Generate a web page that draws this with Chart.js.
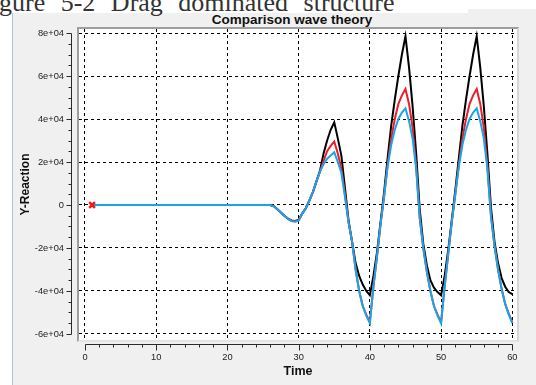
<!DOCTYPE html>
<html>
<head>
<meta charset="utf-8">
<script src="https://cdn.jsdelivr.net/npm/chart.js@4/dist/chart.umd.min.js"></script>
<style>
  body { margin: 0; width: 536px; height: 385px; background: #fff; overflow: hidden; position: relative; }
  .panel { position: absolute; left: 12px; top: 13px; right: 0; bottom: 0; background: #f0f0f0; border-left: 1px solid #b4c2d8; }
  .panel-notch { position: absolute; left: 468px; top: 9px; width: 68px; height: 4px; background: #f0f0f0; }
  .plotbox { position: absolute; left: 77px; top: 27px; width: 442px; height: 315px; box-sizing: border-box; background: #fff;
    border-top: 2px solid #9e9e9e; border-left: 2px solid #9e9e9e; border-right: 2px solid #d6d6d6; border-bottom: 2px solid #e4e4e4; }
  .heading { position: absolute; left: -1px; top: -10px; font-family: "Liberation Serif", serif; font-size: 26px; line-height: 26px;
    word-spacing: 9px; color: #333; white-space: nowrap; }
  .title { position: absolute; left: 192px; width: 200px; top: 12px; text-align: center; font-family: "Liberation Sans", Arial, sans-serif;
    font-weight: bold; font-size: 13.5px; color: #111; }
  canvas { position: absolute; left: 0; top: 0; }
</style>
</head>
<body>
<div class="panel"></div>
<div class="panel-notch"></div>
<div class="plotbox"></div>
<div class="heading">gure 5-2 Drag dominated structure</div>
<div class="title">Comparison wave theory</div>
<canvas id="chart" width="536" height="385"></canvas>
<script>
var timeValues = [1, 25, 25.5, 26, 26.5, 27, 27.5, 28, 28.5, 29, 29.5, 30, 30.5, 31, 31.5, 32, 32.5, 33, 33.5, 34, 34.5, 35,
  35.5, 36, 36.5, 37, 37.5, 38, 38.5, 39, 39.5, 40, 40.5, 41, 41.5, 42, 42.5, 43, 43.5, 44, 44.5, 45,
  45.5, 46, 46.5, 47, 47.5, 48, 48.5, 49, 49.5, 50, 50.5, 51, 51.5, 52, 52.5, 53, 53.5, 54, 54.5, 55,
  55.5, 56, 56.5, 57, 57.5, 58, 58.5, 59, 59.5, 60];

var blackValues = [0,
  0, 0, 0,
  -500, -2000, -3500, -5000, -6300, -7200, -7400, -7000,
  -4000, -1500, 2000, 6000, 11000, 16000, 24000, 30000, 35000, 38500,
  31000, 23000, 8000, -7000, -17000, -27000, -33000, -37000, -40000, -42000,
  -33000, -22000, -8000, 6000, 22000, 37000, 49000, 60000, 70000, 78500,
  64000, 46000, 24000, -2000, -18000, -28000, -35000, -38500, -40500, -42000,
  -33000, -21000, -7000, 7000, 22000, 37000, 49000, 60000, 70000, 78500,
  64000, 46000, 24000, -1000, -17000, -27000, -34000, -38000, -40500, -41500];

var redValues = [0,
  0, 0, 0,
  -500, -2000, -3500, -5000, -6400, -7300, -7600, -7100,
  -4000, -1500, 2000, 6000, 11000, 15500, 20500, 25000, 27500, 29500,
  24000, 17000, 5000, -8000, -17000, -30000, -40000, -47000, -51000, -54500,
  -38000, -24000, -9000, 4000, 19000, 31000, 40000, 47000, 51000, 54000,
  47000, 36000, 18000, -6000, -20000, -31000, -40000, -47000, -51000, -54500,
  -38000, -23000, -8000, 5000, 19000, 31000, 40000, 47000, 51000, 54000,
  47000, 36000, 18000, -5000, -19000, -30000, -39000, -46000, -50500, -54500];

var blueValues = [0,
  0, 0, 0,
  -500, -2000, -3500, -5000, -6500, -7500, -7800, -7300,
  -4000, -1500, 2000, 6000, 11000, 15500, 19000, 21500, 23000, 24500,
  20000, 15000, 4000, -8000, -17000, -30000, -40000, -47000, -51500, -55000,
  -38000, -24000, -9000, 4000, 18000, 28000, 35000, 40000, 43000, 45000,
  39000, 31000, 17000, -6000, -20000, -31000, -40000, -47000, -51500, -55000,
  -38000, -23000, -8000, 5000, 18000, 28000, 35000, 40000, 43000, 45000,
  39000, 31000, 17000, -5000, -19000, -30000, -39000, -46000, -51000, -55000];

var markerTime = [1];
var markerValue = [0];

var xTickValues = [0, 10, 20, 30, 40, 50, 60];
var yTickValues = [80000, 60000, 40000, 20000, 0, -20000, -40000, -60000];
var yTickLabels = ['8e+04', '6e+04', '4e+04', '2e+04', '0', '-2e+04', '-4e+04', '-6e+04'];

function toPoints(xs, ys) {
  var pts = [];
  for (var i = 0; i < xs.length; i++) {
    pts.push({ x: xs[i], y: ys[i] });
  }
  return pts;
}

// axis lines drawn a few pixels outside the plot box, with minor ticks
var offsetAxes = {
  id: 'offsetAxes',
  afterDraw: function(chart) {
    var ctx = chart.ctx;
    var xs = chart.scales.x;
    var ys = chart.scales.y;
    var area = chart.chartArea;
    ctx.save();
    ctx.strokeStyle = '#2a2a2a';
    ctx.lineWidth = 1;

    var yLine = area.bottom + 4.5;
    ctx.beginPath();
    ctx.moveTo(Math.round(xs.getPixelForValue(0)) + 0.5, yLine);
    ctx.lineTo(Math.round(xs.getPixelForValue(60)) + 0.5, yLine);
    for (var t = 0; t <= 60; t += 2) {
      var px = Math.round(xs.getPixelForValue(t)) + 0.5;
      ctx.moveTo(px, yLine);
      ctx.lineTo(px, yLine + (t % 10 === 0 ? 6 : 3));
    }
    ctx.stroke();

    var xLine = area.left - 7.5;
    ctx.beginPath();
    ctx.moveTo(xLine, Math.round(ys.getPixelForValue(80000)) + 0.5);
    ctx.lineTo(xLine, Math.round(ys.getPixelForValue(-60000)) + 0.5);
    for (var v = -60000; v <= 80000; v += 5000) {
      var py = Math.round(ys.getPixelForValue(v)) + 0.5;
      ctx.moveTo(xLine, py);
      ctx.lineTo(xLine - (v % 20000 === 0 ? 5 : 3), py);
    }
    ctx.stroke();
    ctx.restore();
  }
};

var ctx = document.getElementById('chart').getContext('2d');
var chart = new Chart(ctx, {
  type: 'line',
  data: {
    datasets: [
      {
        label: 'marker',
        data: toPoints(markerTime, markerValue),
        showLine: false,
        pointStyle: 'crossRot',
        pointRadius: 4,
        pointBorderWidth: 2.5,
        borderColor: '#ff1010',
        order: -1
      },
      {
        label: 'blue',
        data: toPoints(timeValues, blueValues),
        borderColor: '#16a6ea',
        borderWidth: 2,
        pointRadius: 0,
        tension: 0,
        order: 0
      },
      {
        label: 'red',
        data: toPoints(timeValues, redValues),
        borderColor: '#ee1c28',
        borderWidth: 2,
        pointRadius: 0,
        tension: 0,
        order: 1
      },
      {
        label: 'black',
        data: toPoints(timeValues, blackValues),
        borderColor: '#000000',
        borderWidth: 2,
        pointRadius: 0,
        tension: 0,
        order: 2
      }
    ]
  },
  options: {
    responsive: false,
    animation: false,
    devicePixelRatio: 1,
    layout: { padding: { top: 29, right: 19, bottom: 0, left: 0 } },
    plugins: {
      legend: { display: false },
      tooltip: { enabled: false }
    },
    scales: {
      x: {
        type: 'linear',
        min: -0.84,
        max: 60.66,
        afterFit: function(s) { s.height = 45; },
        afterBuildTicks: function(axis) {
          axis.ticks = xTickValues.map(function(v) { return { value: v }; });
        },
        grid: { color: '#000', lineWidth: 1, drawTicks: false },
        border: { display: false, dash: [3, 3] },
        ticks: {
          padding: 12,
          maxRotation: 0,
          autoSkip: false,
          color: '#222',
          font: { family: 'Liberation Sans', size: 9.3 }
        },
        title: {
          display: true,
          text: 'Time',
          color: '#111',
          padding: { top: 0, bottom: 6 },
          font: { family: 'Liberation Sans', size: 12.5, weight: 'bold' }
        }
      },
      y: {
        min: -62800,
        max: 81870,
        afterFit: function(s) { s.width = 79; },
        afterBuildTicks: function(axis) {
          axis.ticks = yTickValues.map(function(v) { return { value: v }; });
        },
        grid: { color: '#000', lineWidth: 1, drawTicks: false },
        border: { display: false, dash: [3, 3] },
        ticks: {
          padding: 15,
          autoSkip: false,
          color: '#222',
          font: { family: 'Liberation Sans', size: 9.3 },
          callback: function(value, index) { return yTickLabels[index]; }
        },
        title: {
          display: true,
          text: 'Y-Reaction',
          color: '#111',
          padding: { top: 18, bottom: 0 },
          font: { family: 'Liberation Sans', size: 12, weight: 'bold' }
        }
      }
    }
  },
  plugins: [offsetAxes]
});
</script>
</body>
</html>
